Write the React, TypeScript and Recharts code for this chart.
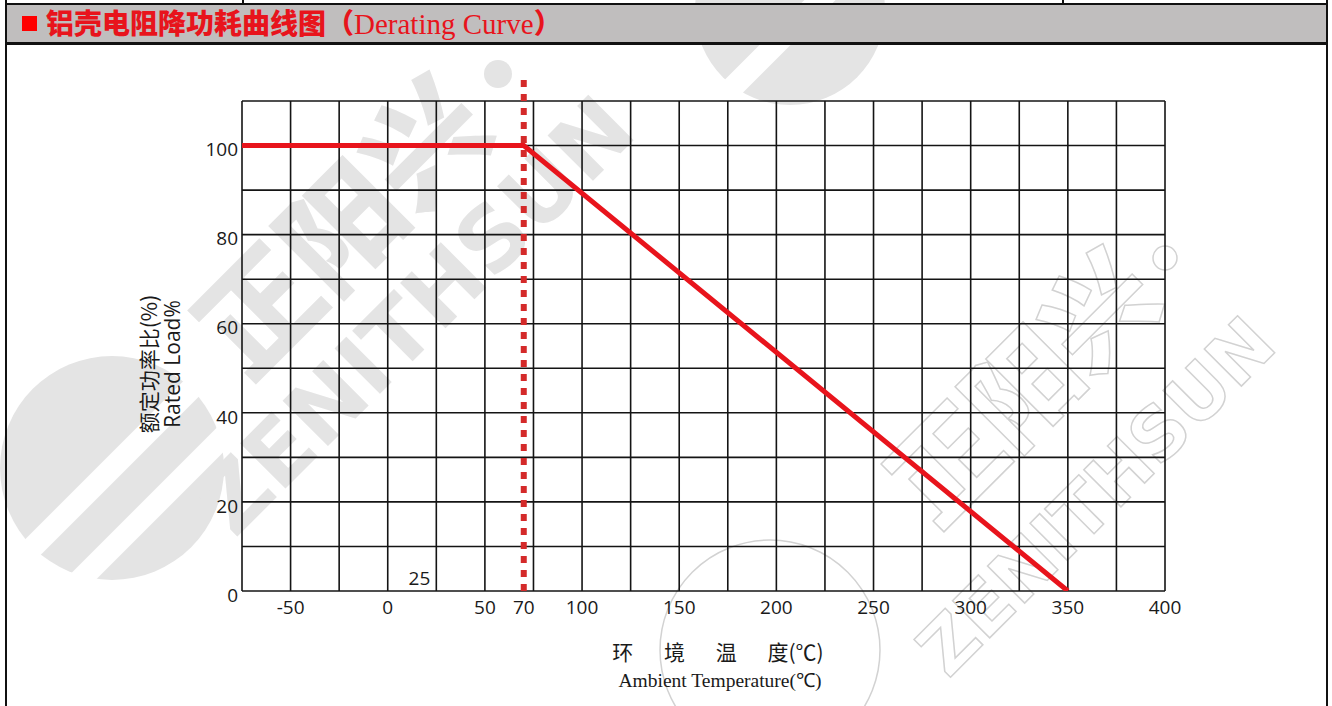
import React from "react";
import { LineChart, Line, XAxis, YAxis, ReferenceLine } from "recharts";

// ---- data ----
const temps = [-75, 70, 350];
const loads = [100, 100, 0];
const xTicks = [-50, 0, 50, 70, 100, 150, 200, 250, 300, 350, 400];
const yTicks = [0, 20, 40, 60, 80, 100];
const gridX = [-75, -50, -25, 0, 25, 50, 75, 100, 125, 150, 175, 200, 225, 250, 275, 300, 325, 350, 375, 400];
const gridY = [0, 10, 20, 30, 40, 50, 60, 70, 80, 90, 100, 110];
const xDomain = [-75, 400];
const yDomain = [0, 110];
const kneeTemp = 70;
const kneeTop = 116;
const markTemp = 25;
const markText = "25";

const titleCn = "铝壳电阻降功耗曲线图";
const titleEn = "Derating Curve";
const yTitleCn = "额定功率比(%)";
const yTitleEn = "Rated Load%";
const xTitleCn = "环 境 温 度(℃)";
const xTitleEn = "Ambient Temperature(℃)";

const data = temps.map((t, i) => ({ t, load: loads[i] }));

const RED = "#e8141c";
const GRID = "#141414";
const tickStyle = { fill: "#1a1a1a", fontSize: 19, fontFamily: "'Open Sans', 'Noto Sans', sans-serif" };

function Watermarks() {
  return (
    <svg width={1332} height={706} style={{ position: "absolute", left: 0, top: 0 }}>
      <g fill="#e4e4e4">
        <circle cx={112} cy={468} r={112} />
        <text x={350} y={235} fontSize={118} fontWeight={900} textAnchor="middle" dominantBaseline="middle"
          fontFamily="'Noto Sans CJK SC', sans-serif" transform="rotate(-45 350 235)">正阳兴</text>
        <text x={420} y={320} fontSize={88} fontWeight={900} textAnchor="middle" dominantBaseline="middle"
          fontFamily="'DejaVu Sans', sans-serif" transform="rotate(-45 420 320)">ZENITHSUN</text>
        <circle cx={790} cy={10} r={95} />
        <circle cx={498} cy={74} r={14} />
      </g>
      <g stroke="#ffffff" strokeWidth={22}>
        <line x1={20} y1={560} x2={200} y2={380} />
        <line x1={60} y1={600} x2={230} y2={430} />
        <line x1={720} y1={100} x2={880} y2={-60} />
      </g>
      <g fill="none" stroke="#d2d2d2" strokeWidth={1.5}>
        <text x={1030} y={395} fontSize={108} fontWeight={900} textAnchor="middle" dominantBaseline="middle"
          fontFamily="'Noto Sans CJK SC', sans-serif" transform="rotate(-45 1030 395)">正阳兴</text>
        <text x={1100} y={500} fontSize={72} fontWeight={900} textAnchor="middle" dominantBaseline="middle"
          fontFamily="'DejaVu Sans', sans-serif" transform="rotate(-45 1100 500)">ZENITHSUN</text>
        <circle cx={770} cy={650} r={110} />
        <circle cx={1165} cy={258} r={12} />
      </g>
    </svg>
  );
}

export default function App() {
  return (
    <div
      style={{
        position: "absolute",
        left: 0,
        top: 0,
        width: 1332,
        height: 706,
        background: "#ffffff",
        overflow: "hidden",
      }}
    >
      <Watermarks />

      {/* frame & title bar */}
      <div style={{ position: "absolute", left: 5, top: 3, width: 1323, height: 2, background: "#111" }} />
      <div style={{ position: "absolute", left: 242, top: 0, width: 2, height: 4, background: "#111" }} />
      <div style={{ position: "absolute", left: 1062, top: 0, width: 2, height: 4, background: "#111" }} />
      <div style={{ position: "absolute", left: 7, top: 5, width: 1319, height: 37, background: "#c0bebe" }} />
      <div style={{ position: "absolute", left: 5, top: 42, width: 1323, height: 3, background: "#111" }} />
      <div style={{ position: "absolute", left: 5, top: 0, width: 2, height: 706, background: "#111" }} />
      <div style={{ position: "absolute", left: 1326, top: 0, width: 2, height: 706, background: "#111" }} />

      <div style={{ position: "absolute", left: 22, top: 16, width: 15, height: 15, background: "#ff0000" }} />
      <div
        style={{
          position: "absolute",
          left: 46,
          top: 4,
          height: 37,
          lineHeight: "37px",
          whiteSpace: "nowrap",
          color: RED,
        }}
      >
        <span style={{ fontFamily: "'Noto Sans CJK SC', sans-serif", fontWeight: 900, fontSize: 28 }}>
          {titleCn}（
        </span>
        <span style={{ fontFamily: "'Liberation Serif', serif", fontSize: 29 }}>{titleEn}</span>
        <span style={{ fontFamily: "'Noto Sans CJK SC', sans-serif", fontWeight: 900, fontSize: 28 }}>）</span>
      </div>

      <LineChart
        width={1332}
        height={706}
        data={data}
        margin={{ top: 101, right: 167, bottom: 85, left: 182 }}
        style={{ position: "absolute", left: 0, top: 0 }}
      >
        <XAxis
          dataKey="t"
          type="number"
          domain={xDomain}
          ticks={xTicks}
          allowDataOverflow
          axisLine={false}
          tickLine={false}
          tickSize={6}
          tickMargin={4}
          tick={tickStyle}
          interval={0}
        />
        <YAxis
          type="number"
          domain={yDomain}
          ticks={yTicks}
          allowDataOverflow
          axisLine={false}
          tickLine={false}
          tickSize={4}
          tickMargin={0}
          tick={{ ...tickStyle, dy: 4 }}
          interval={0}
        />
        {gridY.map((v) => (
          <ReferenceLine key={"gy" + v} y={v} stroke={GRID} strokeWidth={1.6} />
        ))}
        {gridX.map((v) =>
          v === markTemp ? (
            <ReferenceLine
              key={"gx" + v}
              x={v}
              stroke={GRID}
              strokeWidth={1.6}
              label={{ value: markText, position: "insideBottomRight", offset: 6, ...tickStyle }}
            />
          ) : (
            <ReferenceLine key={"gx" + v} x={v} stroke={GRID} strokeWidth={1.6} />
          )
        )}
        <Line
          type="linear"
          dataKey="load"
          stroke={RED}
          strokeWidth={5}
          dot={false}
          activeDot={false}
          isAnimationActive={false}
        />
        <ReferenceLine
          segment={[
            { x: kneeTemp, y: 0 },
            { x: kneeTemp, y: kneeTop },
          ]}
          ifOverflow="visible"
          stroke="#d42a2a"
          strokeWidth={6}
          strokeDasharray="7 7"
        />
      </LineChart>

      {/* axis titles */}
      <div
        style={{
          position: "absolute",
          left: 160,
          top: 364,
          transform: "translate(-50%, -50%) rotate(-90deg)",
          whiteSpace: "nowrap",
          textAlign: "center",
          color: "#1a1a1a",
          lineHeight: "24px",
        }}
      >
        <div style={{ fontFamily: "'Noto Sans CJK SC', sans-serif", fontSize: 21 }}>{yTitleCn}</div>
        <div style={{ fontFamily: "'Open Sans', sans-serif", fontSize: 21 }}>{yTitleEn}</div>
      </div>
      <div
        style={{
          position: "absolute",
          left: 718,
          top: 651,
          transform: "translate(-50%, -50%)",
          whiteSpace: "pre",
          fontFamily: "'Noto Sans CJK SC', sans-serif",
          fontSize: 21,
          wordSpacing: 26,
          color: "#1a1a1a",
        }}
      >
        {xTitleCn}
      </div>
      <div
        style={{
          position: "absolute",
          left: 720,
          top: 679,
          transform: "translate(-50%, -50%)",
          whiteSpace: "nowrap",
          fontFamily: "'Liberation Serif', serif",
          fontSize: 19.5,
          color: "#1a1a1a",
        }}
      >
        {xTitleEn}
      </div>
    </div>
  );
}
